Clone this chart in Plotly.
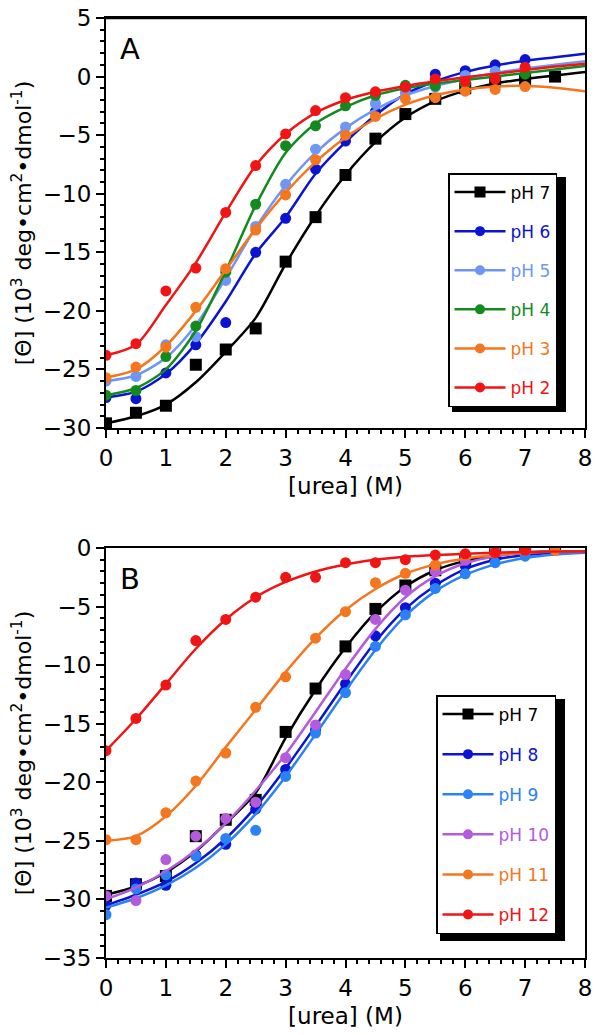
import plotly.graph_objects as go

FONT = "DejaVu Sans"

# ---------------- data: panel A (acidic) ----------------
urea_pts7 = [0, 0.5, 1, 1.5, 2, 2.5, 3, 3.5, 4, 4.5, 5, 5.5, 6, 6.5, 7, 7.5]
urea_pts = [0, 0.5, 1, 1.5, 2, 2.5, 3, 3.5, 4, 4.5, 5, 5.5, 6, 6.5, 7]
urea_fit = [0, 0.5, 1, 1.5, 2, 2.5, 3, 3.5, 4, 4.5, 5, 5.5, 6, 6.5, 7, 7.5, 8]

A_labels = ["pH 7", "pH 6", "pH 5", "pH 4", "pH 3", "pH 2"]
A_colors = ["#000000", "#0a14d2", "#6e96f5", "#138a1e", "#f4761e", "#f01414"]

A_pH7 = [-29.6, -28.7, -28.1, -24.6, -23.3, -21.5, -15.8, -12.0, -8.4, -5.3, -3.2, -1.9, -1.0, -0.4, -0.2, 0.0]
A_pH6 = [-27.4, -27.5, -25.3, -22.9, -21.0, -15.0, -12.1, -7.9, -5.5, -3.0, -1.0, 0.2, 0.5, 1.0, 1.45]
A_pH5 = [-26.0, -25.6, -22.9, -22.2, -17.4, -12.8, -9.2, -6.2, -4.3, -2.3, -1.4, -0.9, 0.1, 0.45, 0.7]
A_pH4 = [-27.2, -26.8, -23.9, -21.3, -16.7, -10.9, -5.9, -4.2, -2.5, -1.6, -0.75, -0.8, -0.6, -0.2, 0.2]
A_pH3 = [-25.7, -24.8, -23.1, -19.7, -16.4, -13.1, -10.1, -7.1, -5.0, -3.4, -1.9, -1.8, -1.25, -1.1, -0.85]
A_pH2 = [-23.8, -22.8, -18.3, -16.35, -11.6, -7.6, -4.9, -2.9, -1.8, -1.3, -0.9, -0.2, -0.4, -0.2, 0.8]

A_fit7 = [-29.6, -29.0, -28.0, -26.1, -23.5, -20.6, -16.0, -11.9, -8.4, -5.6, -3.5, -2.1, -1.2, -0.6, -0.2, 0.1, 0.4]
A_fit6 = [-27.4, -26.9, -25.4, -22.8, -19.2, -15.1, -12.0, -8.3, -5.6, -3.3, -1.5, -0.4, 0.4, 0.95, 1.35, 1.65, 1.95]
A_fit5 = [-26.0, -25.5, -24.0, -21.2, -17.2, -12.9, -9.3, -6.5, -4.4, -2.8, -1.6, -0.8, -0.2, 0.3, 0.7, 1.0, 1.3]
A_fit4 = [-27.2, -26.6, -25.0, -21.7, -16.6, -11.0, -6.5, -4.0, -2.6, -1.6, -1.0, -0.6, -0.3, 0.0, 0.3, 0.6, 0.9]
A_fit3 = [-25.7, -25.0, -23.0, -20.0, -16.5, -13.0, -9.9, -7.3, -5.2, -3.6, -2.4, -1.6, -1.1, -0.85, -0.8, -0.95, -1.25]
A_fit2 = [-23.8, -22.9, -19.5, -15.9, -11.6, -7.6, -4.9, -3.1, -2.0, -1.3, -0.8, -0.4, -0.05, 0.25, 0.55, 0.85, 1.1]

# ---------------- data: panel B (basic) ----------------
B_labels = ["pH 7", "pH 8", "pH 9", "pH 10", "pH 11", "pH 12"]
B_colors = ["#000000", "#0a14d2", "#2a82f5", "#b45adc", "#f4761e", "#f01414"]

B_pH7 = [-29.7, -28.7, -28.0, -24.6, -23.2, -21.5, -15.7, -12.0, -8.4, -5.2, -3.2, -1.9, -1.0, -0.5, 0.0, -0.1]
B_pH8 = [-30.5, -28.6, -28.8, -26.2, -25.3, -22.3, -18.9, -15.5, -11.6, -7.5, -5.1, -3.0, -1.5, -0.7, -0.2]
B_pH9 = [-31.3, -29.1, -27.9, -26.3, -24.8, -24.1, -19.5, -15.8, -12.35, -8.4, -5.7, -3.45, -2.2, -1.25, -0.7]
B_pH10 = [-29.7, -30.1, -26.6, -24.6, -23.1, -21.7, -17.9, -15.1, -10.8, -6.1, -3.6, -2.0, -1.05, 0.0, 0.0]
B_pH11 = [-24.9, -24.9, -22.6, -19.9, -17.5, -13.6, -11.0, -7.7, -5.44, -2.96, -2.16, -1.45, -0.6, -0.4, -0.2, -0.2]
B_pH12 = [-17.3, -14.55, -11.7, -7.9, -6.1, -4.2, -2.5, -2.5, -1.25, -1.25, -1.0, -0.6, -0.5, -0.4, -0.2]

B_fit7 = [-29.6, -28.9, -27.7, -25.9, -23.5, -20.9, -16.2, -12.1, -8.5, -5.5, -3.3, -1.9, -1.1, -0.65, -0.4, -0.3, -0.3]
B_fit8 = [-30.5, -29.6, -28.5, -26.9, -24.8, -22.1, -18.8, -15.2, -11.5, -8.0, -5.2, -3.2, -1.8, -1.0, -0.6, -0.4, -0.3]
B_fit9 = [-30.7, -29.9, -28.8, -27.3, -25.3, -22.7, -19.5, -15.9, -12.2, -8.7, -5.8, -3.7, -2.3, -1.4, -0.85, -0.55, -0.4]
B_fit10 = [-30.0, -29.0, -27.6, -25.8, -23.5, -20.7, -17.6, -14.0, -10.3, -6.9, -4.2, -2.4, -1.3, -0.7, -0.4, -0.3, -0.3]
B_fit11 = [-25.0, -24.6, -22.9, -20.3, -17.0, -13.8, -10.6, -7.7, -5.3, -3.5, -2.2, -1.4, -0.9, -0.6, -0.4, -0.3, -0.3]
B_fit12 = [-17.3, -14.6, -11.6, -8.6, -6.1, -4.2, -2.9, -2.0, -1.4, -1.0, -0.75, -0.6, -0.5, -0.4, -0.35, -0.3, -0.3]

A_pts = [A_pH7, A_pH6, A_pH5, A_pH4, A_pH3, A_pH2]
A_fits = [A_fit7, A_fit6, A_fit5, A_fit4, A_fit3, A_fit2]
B_pts = [B_pH7, B_pH8, B_pH9, B_pH10, B_pH11, B_pH12]
B_fits = [B_fit7, B_fit8, B_fit9, B_fit10, B_fit11, B_fit12]

fig = go.Figure()


def add_panel(labels, colors, pts, fits, xa, ya, legend, grp):
    for i, (lab, col, p, f) in enumerate(zip(labels, colors, pts, fits)):
        sym = "square" if lab == "pH 7" else "circle"
        msize = 12 if sym == "square" else 11
        xs = urea_pts7 if len(p) == 16 else urea_pts
        g = f"{grp}{i}"
        fig.add_trace(go.Scatter(x=urea_fit, y=f, mode="lines", line=dict(color=col, width=2.5, shape="spline", smoothing=0.8),
                                 xaxis=xa, yaxis=ya, showlegend=False, legendgroup=g, hoverinfo="skip"))
        fig.add_trace(go.Scatter(x=xs, y=p, mode="markers", marker=dict(color=col, size=msize, symbol=sym),
                                 xaxis=xa, yaxis=ya, showlegend=False, legendgroup=g))
        fig.add_trace(go.Scatter(x=[None], y=[None], mode="lines+markers",
                                 line=dict(color=col, width=2.5), marker=dict(color=col, size=msize - 1, symbol=sym),
                                 name=f"<span style='color:{col}'>{lab}</span>", xaxis=xa, yaxis=ya,
                                 legend=legend, legendgroup=g, showlegend=True))


add_panel(A_labels, A_colors, A_pts, A_fits, "x", "y", "legend", "A")
add_panel(B_labels, B_colors, B_pts, B_fits, "x2", "y2", "legend2", "B")

ytitle = "[Θ] (10<sup>3</sup> deg•cm<sup>2</sup>•dmol<sup>-1</sup>)"
tickfont = dict(family=FONT, size=23, color="black")

common_x = dict(range=[0, 8], dtick=1, tick0=0, ticks="outside", ticklen=8, tickwidth=2, tickcolor="black",
                showline=True, linewidth=2, linecolor="black", mirror=True, showgrid=False, zeroline=False,
                automargin=False, ticklabeloverflow="allow",
                tickfont=tickfont, minor=dict(dtick=0.2, ticks="outside", ticklen=4, tickwidth=1.5, tickcolor="black"),
                title=dict(text="[urea] (M)", font=dict(family=FONT, size=23, color="black"), standoff=8))
common_y = dict(dtick=5, ticks="outside", ticklen=8, tickwidth=2, tickcolor="black",
                showline=True, linewidth=2, linecolor="black", mirror=True, showgrid=False, zeroline=False,
                automargin=False, ticklabeloverflow="allow",
                tickfont=tickfont, minor=dict(dtick=1, ticks="outside", ticklen=4, tickwidth=1.5, tickcolor="black"),
                title=dict(text=ytitle, font=dict(family=FONT, size=22, color="black"), standoff=7))

# page body margin of 8 px offsets the figure on screen
OFF = 8
W, H = 600 - OFF, 1035 - OFF
left_px, right_px = 106, 585
top_px, a_bot, b_top, bot_px = 18, 428, 548, 958
ph = bot_px - top_px
pw = right_px - left_px


def py(p):
    return (bot_px - p) / ph


def px(p):
    return (p - left_px) / pw


legend_common = dict(xanchor="left", yanchor="top", bgcolor="white", bordercolor="black", borderwidth=1.5,
                     font=dict(family=FONT, size=17), traceorder="grouped", itemwidth=51)

fig.update_layout(
    width=W, height=H, plot_bgcolor="white", paper_bgcolor="white",
    margin=dict(l=left_px - OFF, r=W - (right_px - OFF), t=top_px - OFF, b=H - (bot_px - OFF), autoexpand=False),
    xaxis=dict(common_x, anchor="y", domain=[0, 1]),
    yaxis=dict(common_y, anchor="x", domain=[py(a_bot), 1], range=[-30, 5], tick0=-30),
    xaxis2=dict(common_x, anchor="y2", domain=[0, 1]),
    yaxis2=dict(common_y, anchor="x2", domain=[0, py(b_top)], range=[-35, 0], tick0=-35),
    legend=dict(legend_common, x=px(448), y=py(173), tracegroupgap=14),
    legend2=dict(legend_common, x=px(436), y=py(695), tracegroupgap=15),
    showlegend=True,
    annotations=[
        dict(text="A", xref="x domain", yref="y domain", x=0.025, y=0.97, xanchor="left", yanchor="top",
             showarrow=False, font=dict(family=FONT, size=29, color="black")),
        dict(text="B", xref="x2 domain", yref="y2 domain", x=0.025, y=0.97, xanchor="left", yanchor="top",
             showarrow=False, font=dict(family=FONT, size=29, color="black")),
    ],
    shapes=[
        # top frame edge of panel A
        dict(type="line", xref="paper", yref="paper", x0=0, x1=1, y0=1, y1=1,
             line=dict(color="black", width=2.5), layer="above"),
        # legend drop shadows
        dict(type="rect", xref="paper", yref="paper", x0=px(452), x1=px(566),
             y0=py(412), y1=py(177), fillcolor="black", line=dict(width=0), layer="above"),
        dict(type="rect", xref="paper", yref="paper", x0=px(440), x1=px(565),
             y0=py(941), y1=py(699), fillcolor="black", line=dict(width=0), layer="above"),
    ],
)

fig.write_html("out.html")
